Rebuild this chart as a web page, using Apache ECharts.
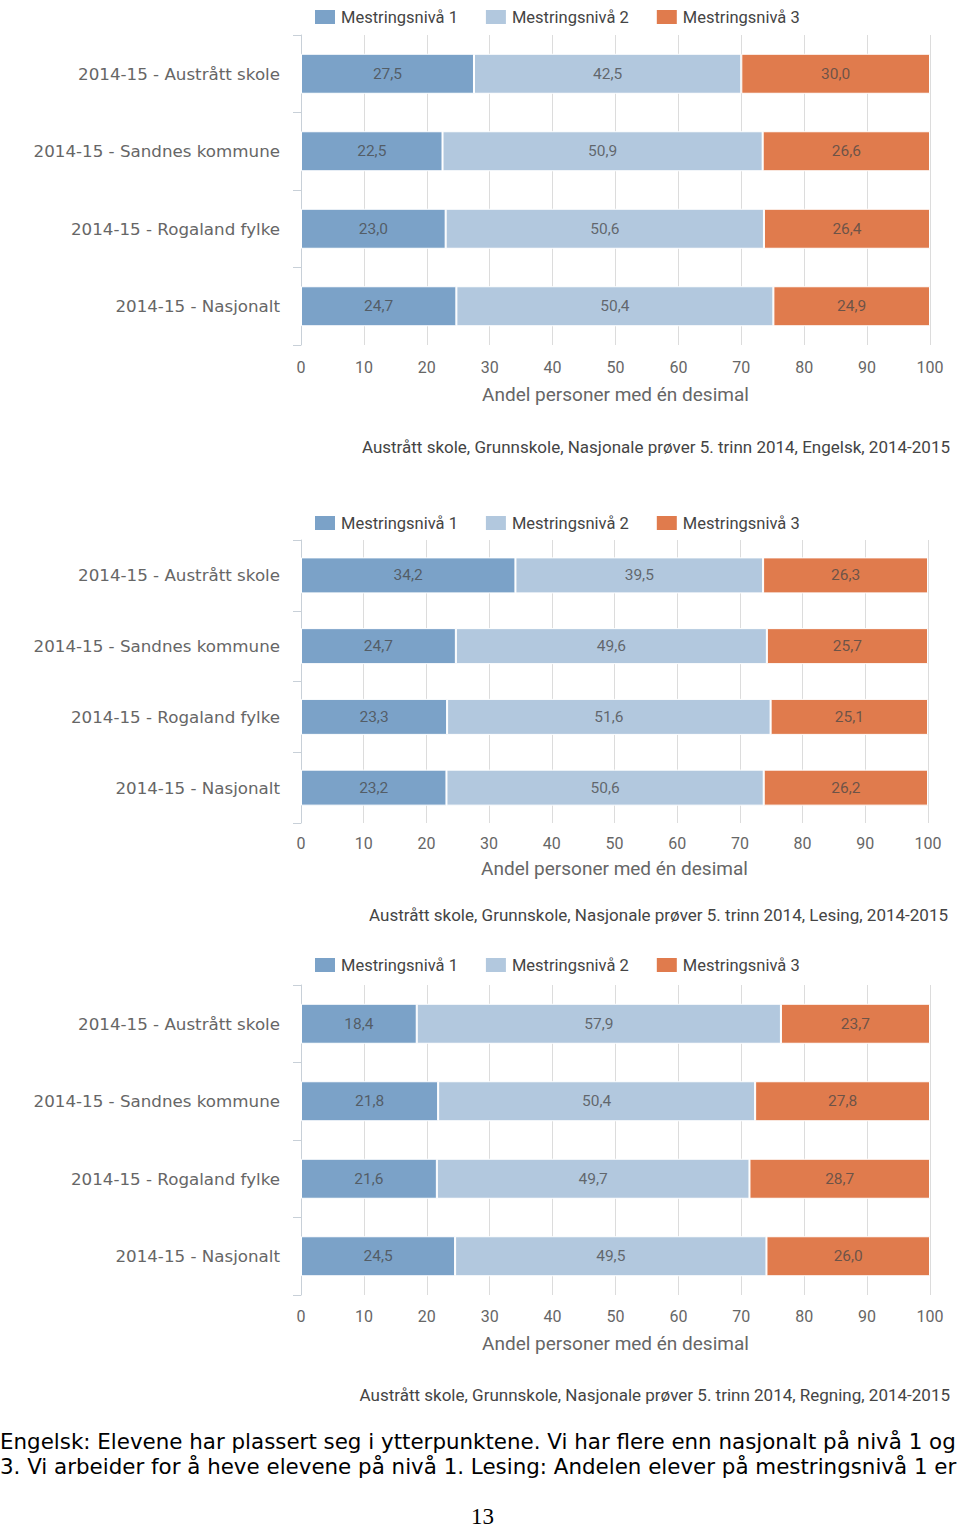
<!DOCTYPE html>
<html><head><meta charset="utf-8">
<script src="https://cdn.jsdelivr.net/npm/echarts@6/dist/echarts.min.js"></script>
<style>html,body{margin:0;padding:0;background:#fff}#c{width:960px;height:1528px}</style>
</head><body><div id="c"></div>
<script>
const categories = ['2014-15 - Austrått skole','2014-15 - Sandnes kommune','2014-15 - Rogaland fylke','2014-15 - Nasjonalt'];
const seriesNames = ['Mestringsnivå 1','Mestringsnivå 2','Mestringsnivå 3'];
const xTicks = [0,10,20,30,40,50,60,70,80,90,100];
const engelskM1 = [27.5,22.5,23.0,24.7];
const engelskM2 = [42.5,50.9,50.6,50.4];
const engelskM3 = [30.0,26.6,26.4,24.9];
const lesingM1 = [34.2,24.7,23.3,23.2];
const lesingM2 = [39.5,49.6,51.6,50.6];
const lesingM3 = [26.3,25.7,25.1,26.2];
const regningM1 = [18.4,21.8,21.6,24.5];
const regningM2 = [57.9,50.4,49.7,49.5];
const regningM3 = [23.7,27.8,28.7,26.0];
const footers = [
 'Austrått skole, Grunnskole, Nasjonale prøver 5. trinn 2014, Engelsk, 2014-2015',
 'Austrått skole, Grunnskole, Nasjonale prøver 5. trinn 2014, Lesing, 2014-2015',
 'Austrått skole, Grunnskole, Nasjonale prøver 5. trinn 2014, Regning, 2014-2015'
];
const axisTitle = 'Andel personer med én desimal';
const paragraph = [
 'Engelsk: Elevene har plassert seg i ytterpunktene. Vi har flere enn nasjonalt på nivå 1 og',
 '3. Vi arbeider for å heve elevene på nivå 1. Lesing: Andelen elever på mestringsnivå 1 er'
];
const pageNumber = '13';

const colors = ['#7ba2c8','#b2c8de','#e07b4d'];
const narrow = '"Roboto", sans-serif';
const panels = [
 {data:[engelskM1,engelskM2,engelskM3], top:35, height:310, right:30, legendTop:3, nameGap:40, labelMargin:14, barWidth:40, footerY:448, footerX:950},
 {data:[lesingM1,lesingM2,lesingM3], top:540, height:283, right:32, legendTop:509, nameGap:36, labelMargin:12, barWidth:36, footerY:916, footerX:948},
 {data:[regningM1,regningM2,regningM3], top:985, height:310, right:30, legendTop:951, nameGap:39, labelMargin:13, barWidth:40, footerY:1396, footerX:950}
];
const fmt = v => v.toFixed(1).replace('.', ',');

const option = {
 animation:false,
 color: colors,
 grid: panels.map(p=>({left:301, right:p.right, top:p.top, height:p.height})),
 legend: panels.map(p=>({
   data: seriesNames, left:308, top:p.legendTop, itemWidth:22, itemHeight:16, itemGap:26, icon:'rect',
   textStyle:{fontFamily:narrow, fontSize:16.5, color:'#444'}
 })),
 xAxis: panels.map((p,i)=>({
   type:'value', gridIndex:i, min:0, max:100, interval:10,
   axisLine:{show:false}, axisTick:{show:false},
   splitLine:{lineStyle:{color:'#dcdcdc'}},
   axisLabel:{margin:p.labelMargin, fontFamily:narrow, fontSize:16, color:'#666', formatter: v => xTicks.includes(v) ? String(v) : ''},
   name: axisTitle, nameLocation:'middle', nameGap:p.nameGap,
   nameTextStyle:{fontFamily:narrow, fontSize:19, color:'#666'}
 })),
 yAxis: panels.map((p,i)=>({
   type:'category', gridIndex:i, data:categories, inverse:true, offset:5,
   axisLine:{show:true, lineStyle:{color:'#c8d0d8'}},
   axisTick:{show:true, length:8, lineStyle:{color:'#c8d0d8'}},
   axisLabel:{margin:16, fontFamily:'"DejaVu Sans", Verdana, sans-serif', fontSize:16.7, color:'#666'}
 })),
 series: panels.flatMap((p,i)=>p.data.map((d,k)=>({
   type:'bar', name:seriesNames[k], stack:'s'+i, xAxisIndex:i, yAxisIndex:i,
   data:d, barWidth:p.barWidth,
   itemStyle:{color:colors[k], borderColor:'#fff', borderWidth:1},
   label:{show:true, position:'inside', formatter: o => fmt(o.value), fontFamily:narrow, fontSize:15.5, color:'rgba(70,70,70,0.75)'}
 }))),
 graphic: [
   ...panels.map((p,i)=>({type:'text', right:960-p.footerX, top:p.footerY-10, style:{text:footers[i], font:'17px '+narrow, fill:'#444'}})),
   {type:'text', left:0, top:1431, style:{text:paragraph[0], font:'21.4px "DejaVu Sans", Verdana, sans-serif', fill:'#000'}},
   {type:'text', left:0, top:1456, style:{text:paragraph[1], font:'21.4px "DejaVu Sans", Verdana, sans-serif', fill:'#000'}},
   {type:'text', left:471, top:1505, style:{text:pageNumber, font:'23px "Liberation Serif", "DejaVu Serif", serif', fill:'#000'}}
 ]
};
const chart = echarts.init(document.getElementById('c'), null, {renderer:'svg'});
chart.setOption(option);
</script></body></html>
